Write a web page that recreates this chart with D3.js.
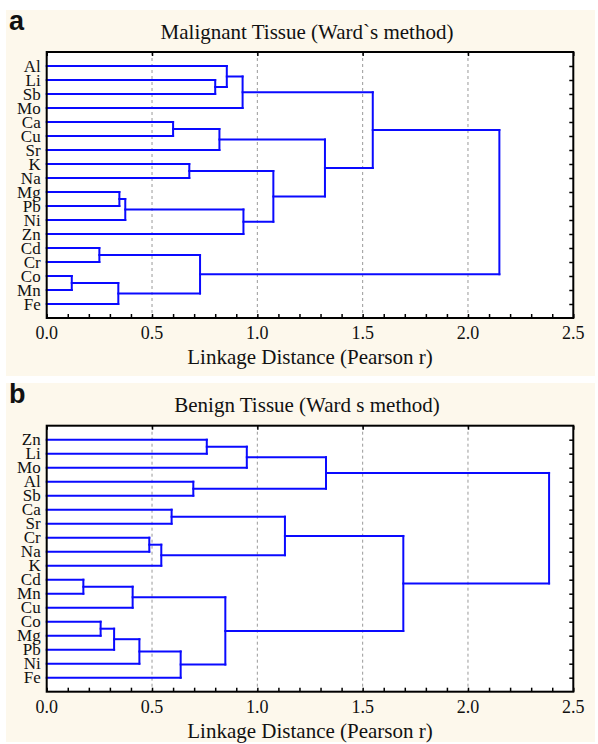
<!DOCTYPE html>
<html>
<head>
<meta charset="utf-8">
<script src="https://cdn.jsdelivr.net/npm/d3@7"></script>
<style>
body { margin:0; background:#fff; }
text { font-family: "Liberation Serif", "Times New Roman", serif; fill:#111; }
.tag { font-family: "Liberation Sans", Arial, sans-serif; font-weight:bold; }
</style>
</head>
<body>
<div id="chart"></div>
<script>
// leaf order (top to bottom) and merges [child, child, distance]
// children: leaf name, or "#k" for the k-th merge of the same panel
var leavesA = ["Al","Li","Sb","Mo","Ca","Cu","Sr","K","Na","Mg","Pb","Ni","Zn","Cd","Cr","Co","Mn","Fe"];
var mergesA = [
  ["Li","Sb",0.80],      // 0
  ["Al","#0",0.855],     // 1
  ["#1","Mo",0.93],      // 2
  ["Ca","Cu",0.60],      // 3
  ["#3","Sr",0.82],      // 4
  ["K","Na",0.677],      // 5
  ["Mg","Pb",0.345],     // 6
  ["#6","Ni",0.373],     // 7
  ["#7","Zn",0.934],     // 8
  ["#5","#8",1.076],     // 9
  ["Cd","Cr",0.25],      // 10
  ["Co","Mn",0.119],     // 11
  ["#11","Fe",0.34],     // 12
  ["#10","#12",0.728],   // 13
  ["#4","#9",1.321],     // 14
  ["#2","#14",1.548],    // 15
  ["#15","#13",2.149]    // 16
];

var leavesB = ["Zn","Li","Mo","Al","Sb","Ca","Sr","Cr","Na","K","Cd","Mn","Cu","Co","Mg","Pb","Ni","Fe"];
var mergesB = [
  ["Zn","Li",0.76],      // 0
  ["#0","Mo",0.95],      // 1
  ["Al","Sb",0.696],     // 2
  ["#1","#2",1.326],     // 3
  ["Ca","Sr",0.593],     // 4
  ["Cr","Na",0.487],     // 5
  ["#5","K",0.544],      // 6
  ["#4","#6",1.131],     // 7
  ["Cd","Mn",0.174],     // 8
  ["#8","Cu",0.408],     // 9
  ["Co","Mg",0.256],     // 10
  ["#10","Pb",0.32],     // 11
  ["#11","Ni",0.44],     // 12
  ["#12","Fe",0.636],    // 13
  ["#9","#13",0.848],    // 14
  ["#7","#14",1.693],    // 15
  ["#3","#15",2.385]     // 16
];

var xTicks = [0, 0.5, 1.0, 1.5, 2.0, 2.5];
var titles = ["Malignant Tissue (Ward`s method)", "Benign Tissue (Ward s method)"];
var tags = ["a", "b"];
var xTitle = "Linkage Distance (Pearson r)";

var W = 598, H = 744;
var svg = d3.select("#chart").append("svg").attr("width", W).attr("height", H);

var panels = [
  {top:10, bottom:376, plotTop:52, leaves:leavesA, merges:mergesA},
  {top:383, bottom:742, plotTop:425.7, leaves:leavesB, merges:mergesB}
];

var left = 46.7, right = 573.3, rowH = 14;
var x = d3.scaleLinear().domain([0, 2.5]).range([left, right]);

panels.forEach(function(p, pi){
  var g = svg.append("g");
  g.append("rect").attr("x",6).attr("y",p.top).attr("width",589).attr("height",p.bottom-p.top)
    .attr("fill","#fdf8ec");

  var n = p.leaves.length;
  var y = d3.scaleLinear().domain([0, n+1]).range([p.plotTop, p.plotTop + rowH*(n+1)]);
  var plotBottom = y(n+1);

  g.append("rect").attr("x",left).attr("y",p.plotTop).attr("width",right-left)
    .attr("height",plotBottom-p.plotTop).attr("fill","#fff");

  // grid
  g.selectAll(".grid").data(xTicks.slice(1,-1)).enter().append("line")
    .attr("x1",d=>x(d)).attr("x2",d=>x(d)).attr("y1",p.plotTop).attr("y2",plotBottom)
    .attr("stroke","#999").attr("stroke-width",1).attr("stroke-dasharray","3,3");

  // dendrogram: node positions
  var pos = {};
  p.leaves.forEach(function(l,i){ pos[l] = {y: y(i+1), h: 0}; });
  var segs = [];
  p.merges.forEach(function(m, k){
    var a = pos[m[0]], b = pos[m[1]], h = m[2];
    segs.push([a.h, a.y, h, a.y]);
    segs.push([b.h, b.y, h, b.y]);
    segs.push([h, a.y, h, b.y]);
    pos["#"+k] = {y: (a.y+b.y)/2, h: h};
  });

  g.selectAll(".seg").data(segs).enter().append("line")
    .attr("x1",d=>x(d[0])).attr("y1",d=>d[1]).attr("x2",d=>x(d[2])).attr("y2",d=>d[3])
    .attr("stroke","#0a0aff").attr("stroke-width",2).attr("stroke-linecap","square");

  // axes
  var minor = d3.range(0, 2.51, 0.1);
  g.append("g").attr("transform","translate(0,"+plotBottom+")")
    .call(d3.axisBottom(x).tickValues(minor).tickSize(-4).tickFormat(""))
    .call(a=>a.select(".domain").remove());
  g.append("g").attr("transform","translate(0,"+p.plotTop+")")
    .call(d3.axisTop(x).tickValues(xTicks).tickSize(-4).tickFormat(""))
    .call(a=>a.select(".domain").remove());
  g.append("g").attr("transform","translate("+right+",0)")
    .call(d3.axisRight(y).tickValues(d3.range(1, n+1)).tickSize(-4).tickFormat(""))
    .call(a=>a.select(".domain").remove());
  g.selectAll(".tick line").attr("stroke","#000").attr("stroke-width",1.5);

  g.append("rect").attr("x",left).attr("y",p.plotTop).attr("width",right-left)
    .attr("height",plotBottom-p.plotTop).attr("fill","none").attr("stroke","#000").attr("stroke-width",2);

  // labels
  g.selectAll(".leaf").data(p.leaves).enter().append("text")
    .attr("x",left-6).attr("y",(d,i)=>y(i+1)+5.5).attr("text-anchor","end")
    .style("font-size","17px").text(d=>d);

  g.selectAll(".xl").data(xTicks).enter().append("text")
    .attr("x",d=>x(d)).attr("y",plotBottom+21).attr("text-anchor","middle")
    .style("font-size","18px").text(d=>d3.format(".1f")(d));

  g.append("text").attr("x",310).attr("y",plotBottom+46).attr("text-anchor","middle")
    .style("font-size","21px").text(xTitle);

  g.append("text").attr("x",307).attr("y",p.top+28.5).attr("text-anchor","middle")
    .style("font-size","21px").text(titles[pi]);

  g.append("text").attr("class","tag").attr("x",9).attr("y",p.top+20)
    .style("font-size","27px").text(tags[pi]);
});
</script>
</body>
</html>
